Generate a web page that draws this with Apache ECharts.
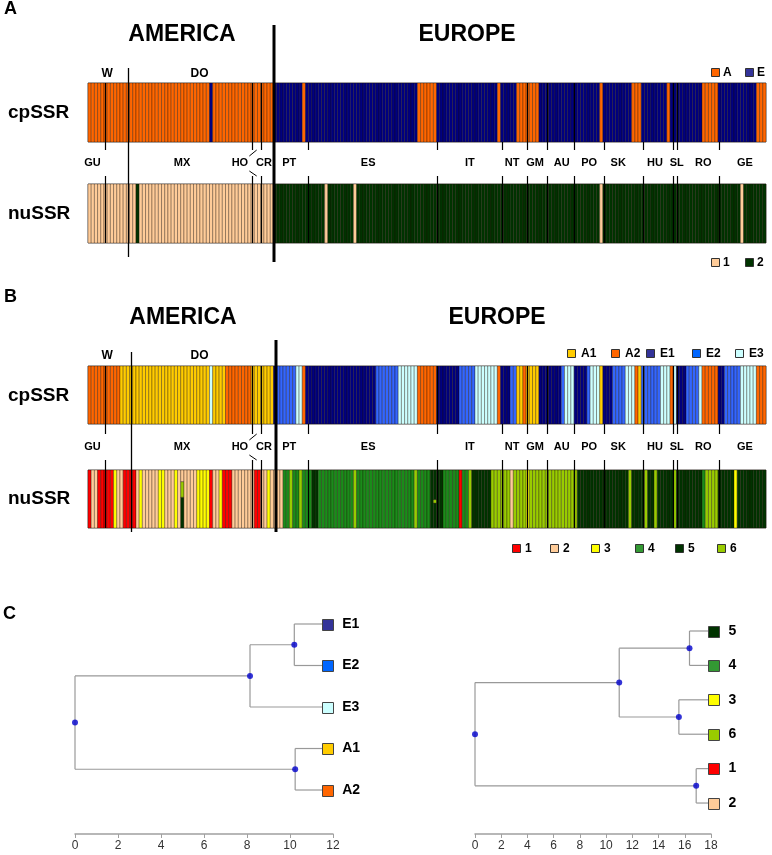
<!DOCTYPE html>
<html><head><meta charset="utf-8">
<script src="https://cdn.jsdelivr.net/npm/echarts@6/dist/echarts.min.js"></script>
<style>html,body{margin:0;padding:0;background:#fff}#c{width:772px;height:855px}</style>
</head><body><div id="c"></div>
<script>
// ---------------- DATA ----------------
const N = 212; // individuals
// Panel A
const cpA_keys = ["A", "E"];
const cpA_colors = ["#FF6600", "#000080"];
const cpA_runs = [["A",38],["E",1],["A",19],["E",9],["A",1],["E",35],["A",6],["E",19],["A",1],["E",5],["A",7],["E",19],["A",1],["E",9],["A",3],["E",8],["A",1],["E",10],["A",5],["E",12],["A",3]];
const nuA_keys = ["1", "2"];
const nuA_colors = ["#FFCC99", "#003300"];
const nuA_runs = [["1",15],["2",1],["1",42],["2",16],["1",1],["2",8],["1",1],["2",76],["1",1],["2",43],["1",1],["2",7]];
// Panel B
const cpB_keys = ["A1", "A2", "E1", "E2", "E3"];
const cpB_colors = ["#FFCC00", "#FF6600", "#000080", "#3366FF", "#CCFFFF"];
const cpB_runs = [["A2",10],["A1",28],["E3",1],["A1",4],["A2",8],["A1",7],
  ["E1",1],["E2",6],["E3",2],["A2",1],["E1",22],["E2",7],["E3",6],["A2",6],["E1",7],["E2",5],["E3",7],["A2",1],
  ["E1",3],["E2",2],["A1",2],["A2",1],["A1",4],["E1",7],["E2",1],["E3",3],["E1",4],["E2",1],["E3",3],["A1",1],
  ["E1",3],["E2",4],["E3",3],["A2",1],["A1",1],["E2",6],["E3",3],["A2",1],["E3",1],["E1",3],["E2",4],["E3",1],
  ["A2",5],["E1",2],["E2",5],["E3",5],["A2",3]];
const nuB_keys = ["1", "2", "3", "4", "5", "6"];
const nuB_colors = ["#FF0000", "#FFCC99", "#FFFF00", "#1A8C1A", "#003300", "#99CC00"];
const nuB_runs = [["1",1],["2",2],["1",5],["3",1],["2",2],["1",4],["2",1],["3",1],["2",5],["3",2],["2",3],["3",1],["2",1],["5",1],
  ["2",4],["3",4],["1",1],["2",2],["3",1],["1",3],["2",7],["1",2],["2",2],["3",1],["2",4],
  ["4",2],["6",1],["4",2],["6",1],["4",3],["5",2],["4",11],["6",1],["4",18],["6",1],["4",4],["5",4],["4",5],["1",1],
  ["4",2],["6",1],["5",6],["6",6],["2",1],["6",4],["3",1],["6",15],["5",16],["6",1],["5",4],["6",1],["5",2],["6",1],
  ["5",5],["6",1],["5",8],["4",1],["6",4],["5",5],["3",1],["5",9]];
// admixed individuals (fractions bottom -> top)
const nuB_mixed = [
  {ind: 29, parts: [["5",0.53],["6",0.27],["2",0.20]]},
  {ind: 108, parts: [["5",0.43],["6",0.06],["5",0.51]]}
];
// populations (boundaries and label centres in individual units)
const popBounds = [5.3, 51.2, 54.0, 68.8, 109.0, 129.3, 137.4, 143.6, 152.0, 161.3, 173.5, 182.8, 184.1, 197.3];
const cpThroughA = [1,1,1,0,0,0,1,1,1,0,0,1,1,0];
const cpThroughB = [1,1,1,0,1,0,1,1,0,0,1,1,1,0];
const popLabels = ["GU","MX","HO","CR","PT","ES","IT","NT","GM","AU","PO","SK","HU","SL","RO","GE"];
const popLabelPos = [1.4, 29.4, 47.5, 55.0, 62.9, 87.6, 119.4, 132.6, 139.8, 148.1, 156.7, 165.8, 177.3, 184.1, 192.4, 205.4];
const regionLabels = ["W", "DO"];
const regionLabelPos = [6.0, 34.9];
const splitA = [12.5, 58.3]; // W|DO, AMERICA|EUROPE
const splitB = [13.4, 58.8];
const hoLeader = [52.75, 50.45];
// Panel C trees
const cpTreeLeaves = ["E1","E2","E3","A1","A2"];
const cpTreeLeafColors = ["#333399","#0066FF","#CCFFFF","#FFCC00","#FF6600"];
const cpTreeMerges = [[0,1],[5,2],[3,4],[6,7]];
const cpTreeHeights = [10.2, 8.14, 10.24, 0];
const cpTreeTip = 11.5;
const nuTreeLeaves = ["5","4","3","6","1","2"];
const nuTreeLeafColors = ["#003300","#339933","#FFFF00","#99CC00","#FF0000","#FFCC99"];
const nuTreeMerges = [[0,1],[2,3],[6,7],[4,5],[8,9]];
const nuTreeHeights = [16.36, 15.55, 11.0, 16.87, 0];
const nuTreeTip = 17.8;

// ---------------- LAYOUT ----------------
const FONT = '"Liberation Sans", Arial, Helvetica, sans-serif';
const BAR_LEFT = 88, BAR_WIDTH = 678;
const rows = [{top:83,height:59},{top:184,height:59},{top:366,height:58},{top:470,height:58}];
const panels = [
  {cp:0, nu:1, tick:8, through:cpThroughA, split:splitA, splitUp:[15,58], splitDown:[14,19], regionOff:9},
  {cp:2, nu:3, tick:10, through:cpThroughB, split:splitB, splitUp:[14,26], splitDown:[4,4], regionOff:10}
];

function expand(runs){ const out=[]; runs.forEach(([k,n])=>{for(let j=0;j<n;j++) out.push(k);}); return out; }
function segments(runs, keys, mixed){
  const seq = expand(runs); const segs=[];
  seq.forEach((k,i)=>{
    const m = mixed && mixed.find(d=>d.ind===i);
    if (m){ let y=0; m.parts.forEach(([kk,f])=>{segs.push([i, keys.indexOf(kk), y, y+f]); y+=f;}); }
    else segs.push([i, keys.indexOf(k), 0, 1]);
  });
  return segs;
}
const rowData = [
  {segs: segments(cpA_runs, cpA_keys), colors: cpA_colors},
  {segs: segments(nuA_runs, nuA_keys), colors: nuA_colors},
  {segs: segments(cpB_runs, cpB_keys), colors: cpB_colors},
  {segs: segments(nuB_runs, nuB_keys, nuB_mixed), colors: nuB_colors}
];

const grids=[], xAxes=[], yAxes=[], series=[];
rows.forEach((r,i)=>{
  grids.push({left:BAR_LEFT, width:BAR_WIDTH, top:r.top, height:r.height, show:true, borderColor:'#808080', borderWidth:1, backgroundColor:'transparent'});
  xAxes.push({gridIndex:i, type:'value', min:0, max:N, show:false});
  yAxes.push({gridIndex:i, type:'value', min:0, max:1, show:false});
  const colors = rowData[i].colors;
  series.push({type:'custom', xAxisIndex:i, yAxisIndex:i, clip:false, silent:true, z:2,
    data: rowData[i].segs,
    renderItem:(params, api)=>{
      const x=api.value(0), c=api.value(1), y0=api.value(2), y1=api.value(3);
      const p0=api.coord([x,y1]), p1=api.coord([x+1,y0]);
      return {type:'rect', shape:{x:p0[0], y:p0[1], width:p1[0]-p0[0], height:p1[1]-p0[1]},
        style:{fill:colors[c], stroke:'rgba(30,15,0,0.5)', lineWidth:0.7}};
    }});
});

const lineStyle = {stroke:'#000', lineWidth:1.2};
panels.forEach(P=>{
  const gap = rows[P.nu].top - (rows[P.cp].top + rows[P.cp].height);
  const nuH = rows[P.nu].height;
  series.push({type:'custom', xAxisIndex:P.cp, yAxisIndex:P.cp, clip:false, silent:true, z:5,
    data: popBounds.map((p,k)=>[p, P.through[k]]),
    renderItem:(params, api)=>{
      const a=api.coord([api.value(0),1]), b=api.coord([api.value(0),0]);
      const x=Math.round(a[0])+0.5;
      return {type:'line', shape:{x1:x, y1: api.value(1)? a[1]: b[1], x2:x, y2:b[1]+P.tick}, style:lineStyle};
    }});
  series.push({type:'custom', xAxisIndex:P.nu, yAxisIndex:P.nu, clip:false, silent:true, z:5,
    data: popBounds.map(p=>[p, 1]),
    renderItem:(params, api)=>{
      const a=api.coord([api.value(0),1]), b=api.coord([api.value(0),0]);
      const x=Math.round(a[0])+0.5;
      return {type:'line', shape:{x1:x, y1:a[1]-P.tick, x2:x, y2:b[1]}, style:lineStyle};
    }});
  series.push({type:'custom', xAxisIndex:P.cp, yAxisIndex:P.cp, clip:false, silent:true, z:5,
    data: popLabelPos.map((p,k)=>[p,k]),
    renderItem:(params, api)=>{
      const b=api.coord([api.value(0),0]);
      return {type:'text', x:b[0], y:b[1]+gap/2, style:{text:popLabels[api.value(1)], font:`bold 11px ${FONT}`, fill:'#000', align:'center', verticalAlign:'middle'}};
    }});
  series.push({type:'custom', xAxisIndex:P.cp, yAxisIndex:P.cp, clip:false, silent:true, z:5,
    data: regionLabelPos.map((p,k)=>[p,k]),
    renderItem:(params, api)=>{
      const a=api.coord([api.value(0),1]);
      return {type:'text', x:a[0], y:a[1]-P.regionOff, style:{text:regionLabels[api.value(1)], font:`bold 12px ${FONT}`, fill:'#000', align:'center', verticalAlign:'middle'}};
    }});
  series.push({type:'custom', xAxisIndex:P.cp, yAxisIndex:P.cp, clip:false, silent:true, z:6,
    data: P.split.map((p,k)=>[p,k]),
    renderItem:(params, api)=>{
      const k=api.value(1);
      const a=api.coord([api.value(0),1]), b=api.coord([api.value(0),0]);
      const x = k ? Math.round(a[0]) : Math.round(a[0])+0.5;
      return {type:'line', shape:{x1:x, y1:a[1]-P.splitUp[k], x2:x, y2:b[1]+gap+nuH+P.splitDown[k]},
        style:{stroke:'#000', lineWidth: k? 3 : 1.3}};
    }});
  series.push({type:'custom', xAxisIndex:P.cp, yAxisIndex:P.cp, clip:false, silent:true, z:6,
    data: [[hoLeader[0], hoLeader[1]]],
    renderItem:(params, api)=>{
      const a=api.coord([api.value(0),0]), b=api.coord([api.value(1),0]);
      const yb=a[1]+P.tick, yn=a[1]+gap-P.tick;
      return {type:'group', children:[
        {type:'line', shape:{x1:a[0], y1:yb, x2:b[0], y2:yb+6}, style:{stroke:'#000', lineWidth:1}},
        {type:'line', shape:{x1:a[0], y1:yn, x2:b[0], y2:yn-5}, style:{stroke:'#000', lineWidth:1}}
      ]};
    }});
});

// Trees
function buildTree(leaves, merges, heights, tip){
  const n=leaves.length, X=[], Y=[];
  leaves.forEach((l,i)=>{X[i]=tip; Y[i]=i;});
  merges.forEach(([a,b],k)=>{X[n+k]=heights[k]; Y[n+k]=(Y[a]+Y[b])/2;});
  const segs=[], nodes=[];
  merges.forEach(([a,b],k)=>{ const id=n+k, x=X[id];
    segs.push([x,Y[a],x,Y[b]]); segs.push([x,Y[a],X[a],Y[a]]); segs.push([x,Y[b],X[b],Y[b]]);
    nodes.push([x,Y[id]]); });
  return {segs, nodes, leafPts: leaves.map((l,i)=>[tip,i,i])};
}
const trees = [
  {t: buildTree(cpTreeLeaves, cpTreeMerges, cpTreeHeights, cpTreeTip), labels: cpTreeLeaves, colors: cpTreeLeafColors,
   grid:{left:75, width:258, top:603.25, height:230.75}, xmax:12, ymin:-0.5, ymax:5.06},
  {t: buildTree(nuTreeLeaves, nuTreeMerges, nuTreeHeights, nuTreeTip), labels: nuTreeLeaves, colors: nuTreeLeafColors,
   grid:{left:475, width:236, top:613.8, height:220.2}, xmax:18, ymin:-0.5, ymax:5.9}
];
trees.forEach((T,j)=>{
  const gi = grids.length;
  grids.push(T.grid);
  xAxes.push({gridIndex:gi, type:'value', min:0, max:T.xmax, interval:2,
    axisLine:{show:true, onZero:false, lineStyle:{color:'#a0a0a0', width:1.5}},
    axisTick:{show:true, length:4, lineStyle:{color:'#a0a0a0'}},
    axisLabel:{color:'#333', fontSize:12, fontFamily:FONT, margin:6},
    splitLine:{show:false}});
  yAxes.push({gridIndex:gi, type:'value', inverse:true, min:T.ymin, max:T.ymax, show:false});
  series.push({type:'custom', xAxisIndex:gi, yAxisIndex:gi, clip:false, silent:true, z:3,
    data: T.t.segs,
    renderItem:(params, api)=>{
      const a=api.coord([api.value(0),api.value(1)]), b=api.coord([api.value(2),api.value(3)]);
      return {type:'line', shape:{x1:a[0], y1:a[1], x2:b[0], y2:b[1]}, style:{stroke:'#999', lineWidth:1.2}};
    }});
  series.push({type:'scatter', xAxisIndex:gi, yAxisIndex:gi, clip:false, silent:true, z:6,
    data: T.t.nodes, symbolSize:6, itemStyle:{color:'#0000CC'}});
  series.push({type:'custom', xAxisIndex:gi, yAxisIndex:gi, clip:false, silent:true, z:6,
    data: T.t.leafPts,
    renderItem:(params, api)=>{
      const p=api.coord([api.value(0),api.value(1)]), k=api.value(2);
      return {type:'group', children:[
        {type:'rect', shape:{x:Math.round(p[0])+0.5, y:Math.round(p[1]-5.5)+0.5, width:11, height:11}, style:{fill:T.colors[k], stroke:'#444', lineWidth:1}},
        {type:'text', x:p[0]+20, y:p[1], style:{text:T.labels[k], font:`bold 14px ${FONT}`, fill:'#000', align:'left', verticalAlign:'middle'}}
      ]};
    }});
});

// ---------------- GRAPHIC TEXT & LEGENDS ----------------
function txt(x,y,text,size,align){ return {type:'text', x, y, style:{text, font:`bold ${size}px ${FONT}`, fill:'#000', align:align||'left', verticalAlign:'middle'}}; }
function legend(keys, colors, xs, y, off){
  const out=[];
  keys.forEach((k,i)=>{
    out.push({type:'rect', shape:{x:xs[i]+0.5, y:y+0.5, width:8, height:8}, style:{fill:colors[i], stroke:'#333', lineWidth:1}});
    out.push(txt(xs[i]+off, y+4.5, k, 12));
  });
  return out;
}
const legendA_cpColors = ["#FF6600", "#333399"];
const legendB_cpColors = ["#FFCC00", "#FF6600", "#333399", "#0066FF", "#CCFFFF"];
const legendB_nuColors = ["#FF0000", "#FFCC99", "#FFFF00", "#339933", "#003300", "#99CC00"];
const graphic = [
  txt(4,9,'A',18), txt(4,297,'B',18), txt(3,614,'C',18),
  txt(182,35,'AMERICA',23,'center'), txt(467,35,'EUROPE',23,'center'),
  txt(183,318,'AMERICA',23,'center'), txt(497,318,'EUROPE',23,'center'),
  txt(8,113,'cpSSR',19), txt(8,214,'nuSSR',19),
  txt(8,396,'cpSSR',19), txt(8,499,'nuSSR',19),
  ...legend(cpA_keys, legendA_cpColors, [711,745], 68, 12),
  ...legend(nuA_keys, nuA_colors, [711,745], 258, 12),
  ...legend(cpB_keys, legendB_cpColors, [567,611,646,692,735], 349, 14),
  ...legend(nuB_keys, legendB_nuColors, [512,550,591,635,675,717], 544, 13)
];

const chart = echarts.init(document.getElementById('c'));
chart.setOption({animation:false, backgroundColor:'#fff', grid:grids, xAxis:xAxes, yAxis:yAxes, series, graphic});
</script></body></html>
